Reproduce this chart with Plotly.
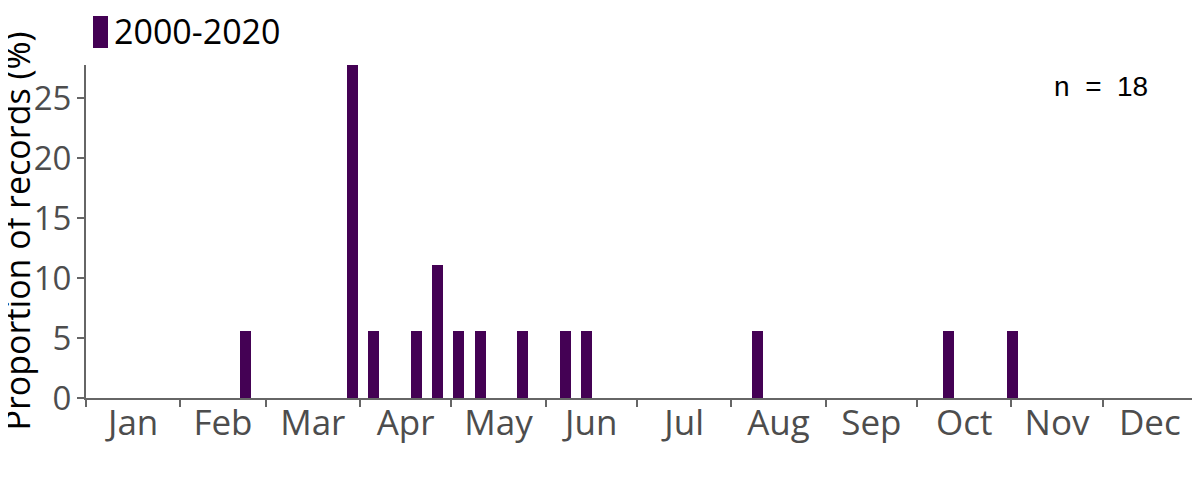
import plotly.graph_objects as go

# ---- data ----
months = ["Jan", "Feb", "Mar", "Apr", "May", "Jun", "Jul", "Aug", "Sep", "Oct", "Nov", "Dec"]
month_days = [31, 28, 31, 30, 31, 30, 31, 31, 30, 31, 30, 31]
weeks = [8, 13, 14, 16, 17, 18, 19, 21, 23, 24, 32, 41, 44]   # week of year (1-based)
counts = [1, 5, 1, 1, 2, 1, 1, 1, 1, 1, 1, 1, 1]
n_total = 18
series_name = "2000-2020"
y_ticks = [0, 5, 10, 15, 20, 25]

# derived
pct = [c / n_total * 100 for c in counts]
week_center_day = [(w - 0.5) * 7 for w in weeks]
bounds = [0]
for d in month_days:
    bounds.append(bounds[-1] + d)
mids = [(bounds[i] + bounds[i + 1]) / 2 for i in range(12)]

PURPLE = "#440154"
AXIS = "#666666"
TICK = "#4d4d4d"
FONT = "Open Sans"

# plot area in page pixels (page body has an 8px margin)
PL, PR, PT, PB = 86, 1197, 65, 398
PW, PH = PR - PL, PB - PT

fig = go.Figure()
fig.add_trace(go.Bar(
    x=week_center_day, y=pct, width=3.6,
    marker=dict(color=PURPLE, line=dict(width=0)),
    name=series_name, showlegend=False,
))

fig.update_layout(
    width=1200, height=480,
    margin=dict(l=PL - 8, r=1200 - (PR - 8), t=PT - 8, b=480 - (PB - 8)),
    paper_bgcolor="white", plot_bgcolor="white",
    font=dict(family=FONT, size=34, color=TICK),
    bargap=0,
)
fig.update_xaxes(
    range=[0, 365], tickmode="array", tickvals=mids, ticktext=months,
    ticks="", showgrid=False, zeroline=False, automargin=False,
    showline=True, linecolor=AXIS, linewidth=2,
    tickfont=dict(family=FONT, size=35, color=TICK),
    minor=dict(tickmode="array", tickvals=bounds, ticks="outside",
               ticklen=7, tickwidth=2, tickcolor=AXIS, showgrid=False),
    ticklabelstandoff=-7,
)
fig.update_yaxes(
    range=[0, max(pct)], tickvals=y_ticks,
    ticks="outside", ticklen=7, tickwidth=2, tickcolor=AXIS,
    showgrid=False, zeroline=False, automargin=False,
    showline=True, linecolor=AXIS, linewidth=2,
    tickfont=dict(family=FONT, size=33, color=TICK),
    ticklabelstandoff=-1,
)

# y-axis title
fig.add_annotation(xref="paper", yref="paper", x=(16 - PL) / PW, y=0.5,
                   text="Proportion of records (%)", textangle=-90, showarrow=False,
                   xanchor="center", yanchor="middle", borderpad=0,
                   font=dict(family=FONT, size=34, color="black"))

# legend (swatch + label)
fig.add_shape(type="rect", xref="paper", yref="paper",
              x0=(93 - PL) / PW, x1=(108 - PL) / PW,
              y0=(PB - 48) / PH, y1=(PB - 16) / PH,
              fillcolor=PURPLE, line=dict(width=0))
fig.add_annotation(xref="paper", yref="paper", x=(112 - PL) / PW, y=(PB - 31) / PH,
                   text=series_name, showarrow=False, xanchor="left", yanchor="middle",
                   font=dict(family=FONT, size=34, color="black"))

fig.add_annotation(xref="paper", yref="paper", x=(1101 - PL) / PW, y=(PB - 86) / PH,
                   text="n\u00a0\u00a0=\u00a0\u00a0" + str(n_total), showarrow=False,
                   xanchor="center", yanchor="middle",
                   font=dict(family="Liberation Sans", size=28, color="black"))

fig.write_html("out.html")
